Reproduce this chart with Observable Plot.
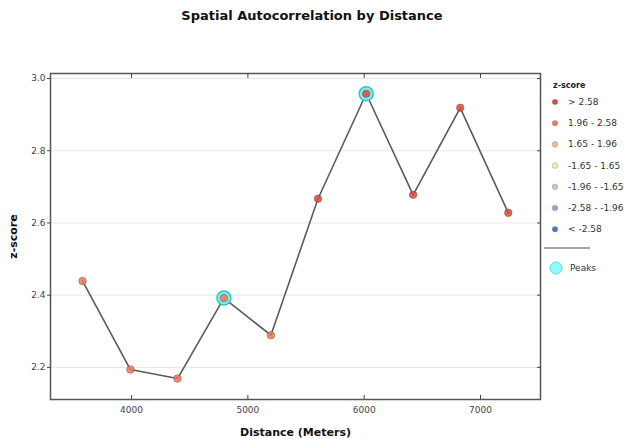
<!DOCTYPE html>
<html>
<head>
<meta charset="utf-8">
<script src="https://cdn.jsdelivr.net/npm/d3@7"></script>
<script src="https://cdn.jsdelivr.net/npm/@observablehq/plot@0.6"></script>
<style>
  html, body { margin: 0; padding: 0; background: #fff; }
  body { width: 624px; height: 439px; position: relative; overflow: hidden; font-family: "DejaVu Sans", sans-serif; }
  #title { position: absolute; left: 0; top: 8px; width: 624px; text-align: center; font-weight: bold; font-size: 13px; color: #111; }
  #chart { position: absolute; left: 0; top: 30px; }
  #legend { position: absolute; left: 0; top: 0; }
</style>
</head>
<body>
<div id="title">Spatial Autocorrelation by Distance</div>
<div id="chart"></div>
<svg id="legend" width="624" height="439"></svg>
<script>
// Data
const distances = [3579, 3990, 4395, 4794, 5198, 5603, 6017, 6421, 6826, 7239];
const zscores   = [2.439, 2.194, 2.169, 2.392, 2.289, 2.667, 2.958, 2.678, 2.919, 2.628];
const peaks     = [4794, 6017];
const xTicks    = [4000, 5000, 6000, 7000];
const yTicks    = [2.2, 2.4, 2.6, 2.8, 3.0];
const classBreaks = [-2.58, -1.96, -1.65, 1.65, 1.96, 2.58];
const classColors = ["#4a78b8", "#8fa6cf", "#c4c8c4", "#f2f0a8", "#f1b98c", "#e8795b", "#d64a40"];
const classLabels = ["> 2.58", "1.96 - 2.58", "1.65 - 1.96", "-1.65 - 1.65", "-1.96 - -1.65", "-2.58 - -1.96", "< -2.58"];

const rows = distances.map((d, i) => ({distance: d, z: zscores[i]}));
const peakRows = rows.filter(r => peaks.includes(r.distance));

const H = 409;
const chart = Plot.plot({
  width: 624,
  height: H,
  marginLeft: 50,
  marginRight: 84,
  marginTop: 43,
  marginBottom: 40,
  style: {fontFamily: "DejaVu Sans, sans-serif", fontSize: "9px", color: "#444", background: "#fff"},
  x: {domain: [3303, 7516]},
  y: {domain: [2.111, 3.014]},
  color: {type: "threshold", domain: classBreaks, range: classColors},
  marks: [
    Plot.gridY(yTicks, {stroke: "#e6e6e6", strokeOpacity: 1}),
    Plot.frame({stroke: "#555", strokeWidth: 1.5}),
    Plot.axisX(xTicks, {anchor: "bottom", tickSize: -4, tickPadding: 11, label: "Distance (Meters)", labelAnchor: "center", labelOffset: 36, labelArrow: "none", tickFormat: d => String(d), fill: "#444"}),
    Plot.axisX(xTicks, {anchor: "top", tickSize: -4, text: null, label: null}),
    Plot.axisY(yTicks, {anchor: "left", tickSize: 3, tickPadding: 2, tickFormat: d => d.toFixed(1), label: "z-score", labelAnchor: "center", labelOffset: 41, labelArrow: "none", fill: "#444"}),
    Plot.axisY(yTicks, {anchor: "right", tickSize: -4, text: null, label: null}),
    Plot.line(rows, {x: "distance", y: "z", stroke: "#5a5a5a", strokeWidth: 1.6}),
    Plot.dot(peakRows, {x: "distance", y: "z", r: 7, fill: "#7cf0f0", stroke: "#2fc6c6", strokeWidth: 1.5}),
    Plot.dot(rows, {x: "distance", y: "z", r: 3.8, fill: "z", fillOpacity: 0.85, stroke: "#8a4a3a", strokeOpacity: 0.6, strokeWidth: 0.8})
  ]
});
document.getElementById("chart").appendChild(chart);
// bold axis titles only (tick labels stay normal)
d3.select(chart).selectAll("g[aria-label='x-axis label'] text, g[aria-label='y-axis label'] text")
  .attr("font-weight", "bold").attr("font-size", 11).attr("fill", "#111");

// Legend
const lg = d3.select("#legend");
lg.append("text").attr("x", 553).attr("y", 88).attr("font-size", 8).attr("font-weight", "bold").attr("fill", "#222").text("z-score");
const legendColors = classColors.slice().reverse();
classLabels.forEach((t, i) => {
  const y = 102 + i * 21.2;
  lg.append("circle").attr("cx", 555).attr("cy", y).attr("r", 2.8).attr("fill", legendColors[i]).attr("stroke", "#999").attr("stroke-width", 0.5);
  lg.append("text").attr("x", 568).attr("y", y + 3).attr("font-size", 9).attr("fill", "#333").text(t);
});
lg.append("line").attr("x1", 544).attr("x2", 590).attr("y1", 248).attr("y2", 248).attr("stroke", "#888").attr("stroke-width", 1.5);
lg.append("circle").attr("cx", 556).attr("cy", 268).attr("r", 6).attr("fill", "#8ffbfb").attr("stroke", "#5bdede").attr("stroke-width", 1);
lg.append("text").attr("x", 570).attr("y", 271).attr("font-size", 9).attr("fill", "#333").text("Peaks");
</script>
</body>
</html>
